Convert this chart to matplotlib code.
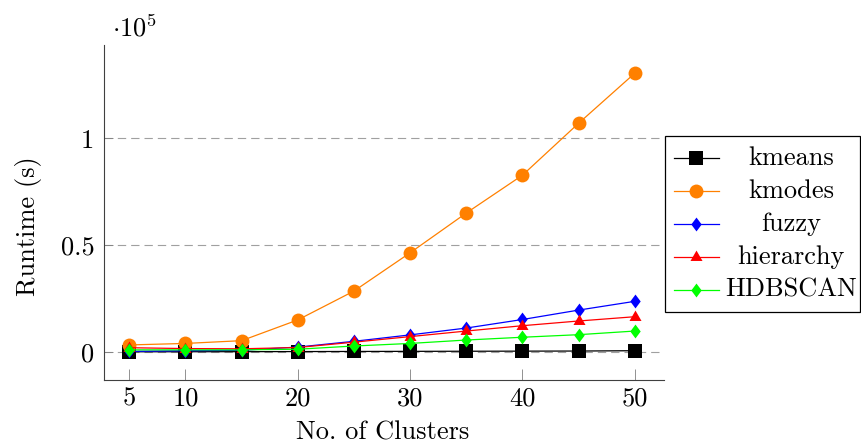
import matplotlib

matplotlib.use("Agg")
import matplotlib.pyplot as plt
from matplotlib.lines import Line2D
from matplotlib.patches import Rectangle

clusters = [5, 10, 15, 20, 25, 30, 35, 40, 45, 50]
kmeans = [100, 120, 150, 200, 250, 300, 350, 400, 450, 600]
kmodes = [3300, 4000, 5300, 15000, 28500, 46400, 65000, 82700, 107000, 130400]
fuzzy = [300, 600, 800, 2300, 5000, 8000, 11200, 15200, 19600, 23700]
hierarchy = [2000, 1600, 1500, 2100, 4600, 7200, 9800, 12300, 14500, 16500]
hdbscan = [1000, 1000, 1000, 1300, 2800, 4000, 5600, 6900, 8100, 9800]

x_ticks = [5, 10, 20, 30, 40, 50]
y_ticks = [0, 50000, 100000]
y_tick_labels = ["0", "0.5", "1"]

W, H = 862, 448
FS = 19

plt.rcParams["font.family"] = ["cmr10", "DejaVu Serif"]
plt.rcParams["mathtext.fontset"] = "cm"
plt.rcParams["axes.formatter.use_mathtext"] = True

# pgfplots-like markers
diamond = [(0, 1), (0.75, 0), (0, -1), (-0.75, 0), (0, 1)]
triangle = [(0, 1), (0.866, -0.5), (-0.866, -0.5), (0, 1)]

series = [
    ("kmeans", kmeans, "black", "s", 10),
    ("kmodes", kmodes, "#ff8000", "o", 10),
    ("fuzzy", fuzzy, "#0000ff", diamond, 10),
    ("hierarchy", hierarchy, "#ff0000", triangle, 10),
    ("HDBSCAN", hdbscan, "#00ff00", diamond, 10),
]


def fx(px):
    return px / W


def fy(py):
    return 1 - py / H


fig = plt.figure(figsize=(W / 100, H / 100), dpi=100)
ax = fig.add_axes([fx(104), fy(380), (664 - 104) / W, (380 - 45) / H])

for name, vals, color, marker, ms in series:
    ax.plot(clusters, vals, color=color, lw=0.9, marker=marker, ms=ms,
            markeredgewidth=0)

ax.set_xlim(2.75, 52.6)
ax.set_ylim(-13100, 143600)
ax.set_xticks(x_ticks)
ax.set_xticklabels([str(t) for t in x_ticks])
ax.set_yticks(y_ticks)
ax.set_yticklabels(y_tick_labels)
ax.tick_params(direction="in", length=8, width=0.6, color="#808080",
               labelsize=FS, pad=5)
ax.tick_params(axis="y", length=6.5, pad=7)
ax.yaxis.grid(True, color="#a0a0a0", lw=0.8, dashes=(7.5, 4.5))
ax.set_axisbelow(True)
for side in ("top", "right"):
    ax.spines[side].set_visible(False)
for side in ("left", "bottom"):
    ax.spines[side].set_color("#404040")
    ax.spines[side].set_linewidth(0.8)

fig.text(fx(112), fy(28), r"$\cdot 10^{5}$", fontsize=FS, ha="left", va="center")
fig.text(fx(383), fy(433), "No. of Clusters", fontsize=FS, ha="center", va="center")
fig.text(fx(29), fy(226), "Runtime (s)", fontsize=FS, ha="center", va="center",
         rotation=90)

# legend, drawn by hand so the labels can be centred like pgfplots does
fig.add_artist(Rectangle((fx(665), fy(312)), (860 - 665) / W, (312 - 136) / H,
                         transform=fig.transFigure, fill=True, facecolor="white",
                         edgecolor="black", lw=0.9))
rows = [158, 191, 224, 257, 290]
for (name, vals, color, marker, ms), ry in zip(series, rows):
    fig.add_artist(Line2D([fx(674), fx(719)], [fy(ry), fy(ry)],
                          transform=fig.transFigure, color=color, lw=0.9))
    fig.add_artist(Line2D([fx(696)], [fy(ry)], transform=fig.transFigure,
                          color=color, marker=marker, ms=ms, markeredgewidth=0))
    fig.text(fx(791), fy(ry), name, fontsize=FS, ha="center", va="center")

fig.savefig("out.png", dpi=100)
